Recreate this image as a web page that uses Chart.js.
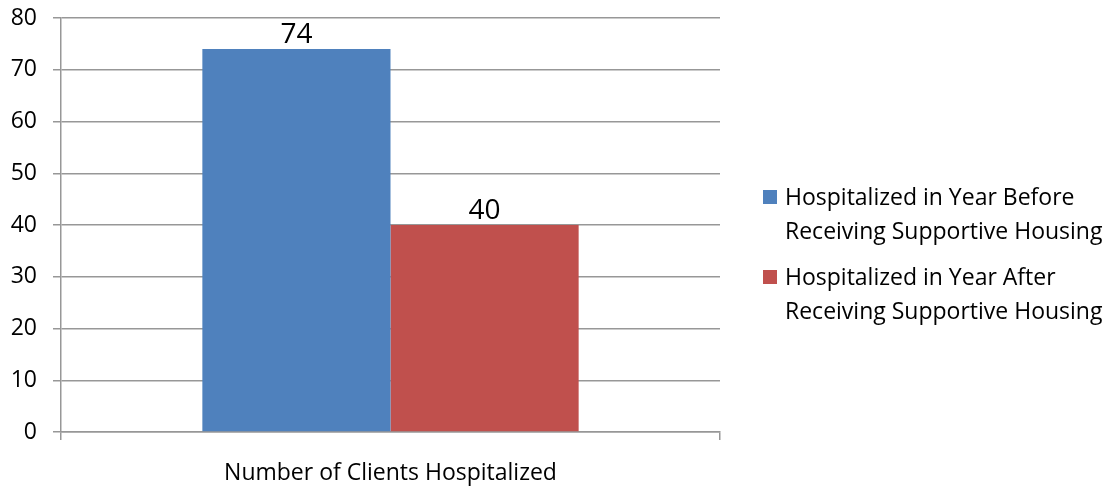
<!DOCTYPE html>
<html>
<head>
<meta charset="utf-8">
<script src="https://cdn.jsdelivr.net/npm/chart.js@4"></script>
<style>
  html, body { margin: 0; padding: 0; background: #fff; }
  #wrap { width: 1110px; height: 488px; position: relative; }
</style>
</head>
<body>
<div id="wrap"><canvas id="chart"></canvas></div>
<script>
// Data
const categories = ['Number of Clients Hospitalized'];
const seriesNames = [
    ['Hospitalized in Year Before', 'Receiving Supportive Housing'],
    ['Hospitalized in Year After', 'Receiving Supportive Housing']
];
const beforeValues = [74];
const afterValues = [40];
const yTicks = [0, 10, 20, 30, 40, 50, 60, 70, 80];

const FONT = "'Open Sans', sans-serif";
const GRID = '#979797';
const colors = ['#4F81BD', '#C0504D'];

// Value labels on top of each bar
const barLabels = {
    id: 'barLabels',
    afterDatasetsDraw(chart) {
        const ctx = chart.ctx;
        ctx.save();
        ctx.font = `28px ${FONT}`;
        ctx.fillStyle = '#000';
        ctx.textAlign = 'center';
        ctx.textBaseline = 'alphabetic';
        chart.data.datasets.forEach((ds, i) => {
            chart.getDatasetMeta(i).data.forEach((bar, j) => {
                ctx.fillText(ds.data[j], bar.x, bar.y - 6);
            });
        });
        ctx.restore();
    }
};

// Right-hand legend with two-line entries
const sideLegend = {
    id: 'sideLegend',
    afterDraw(chart) {
        const ctx = chart.ctx;
        ctx.save();
        ctx.font = `23px ${FONT}`;
        ctx.textBaseline = 'alphabetic';
        ctx.fillStyle = '#000';
        const x0 = 763, textX = 785;
        const firstBase = 205, lineGap = 34, itemGap = 80;
        seriesNames.forEach((lines, i) => {
            const base = firstBase + i * itemGap;
            ctx.fillStyle = colors[i];
            ctx.fillRect(x0, base - 15, 14, 14);
            ctx.fillStyle = '#000';
            lines.forEach((t, k) => ctx.fillText(t, textX, base + k * lineGap));
        });
        ctx.restore();
    }
};

new Chart(document.getElementById('chart'), {
    type: 'bar',
    data: {
        labels: categories,
        datasets: [
            { label: seriesNames[0].join(' '), data: beforeValues, backgroundColor: colors[0] },
            { label: seriesNames[1].join(' '), data: afterValues, backgroundColor: colors[1] }
        ]
    },
    options: {
        responsive: true,
        maintainAspectRatio: false,
        animation: false,
        layout: { padding: { top: 18, right: 390, left: 0, bottom: 0 } },
        datasets: { bar: { categoryPercentage: 0.571, barPercentage: 1.0 } },
        scales: {
            x: {
                grid: { offset: true, drawOnChartArea: false, drawTicks: true, tickLength: 8, color: GRID, lineWidth: 1.5 },
                border: { color: GRID, width: 1.5 },
                ticks: { color: '#000', font: { family: FONT, size: 23 }, padding: 20 },
                afterFit(s) { s.height = 56; s.paddingLeft = 0; s.paddingRight = 0; }
            },
            y: {
                min: 0,
                max: 80,
                afterBuildTicks(s) { s.ticks = yTicks.map(v => ({ value: v })); },
                grid: { drawTicks: true, tickLength: 8, color: GRID, lineWidth: 1.5 },
                border: { color: GRID, width: 1.5 },
                ticks: { color: '#000', font: { family: FONT, size: 23 }, padding: 16 },
                afterFit(s) { s.width = 61; s.paddingTop = 0; s.paddingBottom = 0; }
            }
        },
        plugins: {
            legend: { display: false },
            tooltip: { enabled: false }
        }
    },
    plugins: [barLabels, sideLegend]
});
</script>
</body>
</html>
